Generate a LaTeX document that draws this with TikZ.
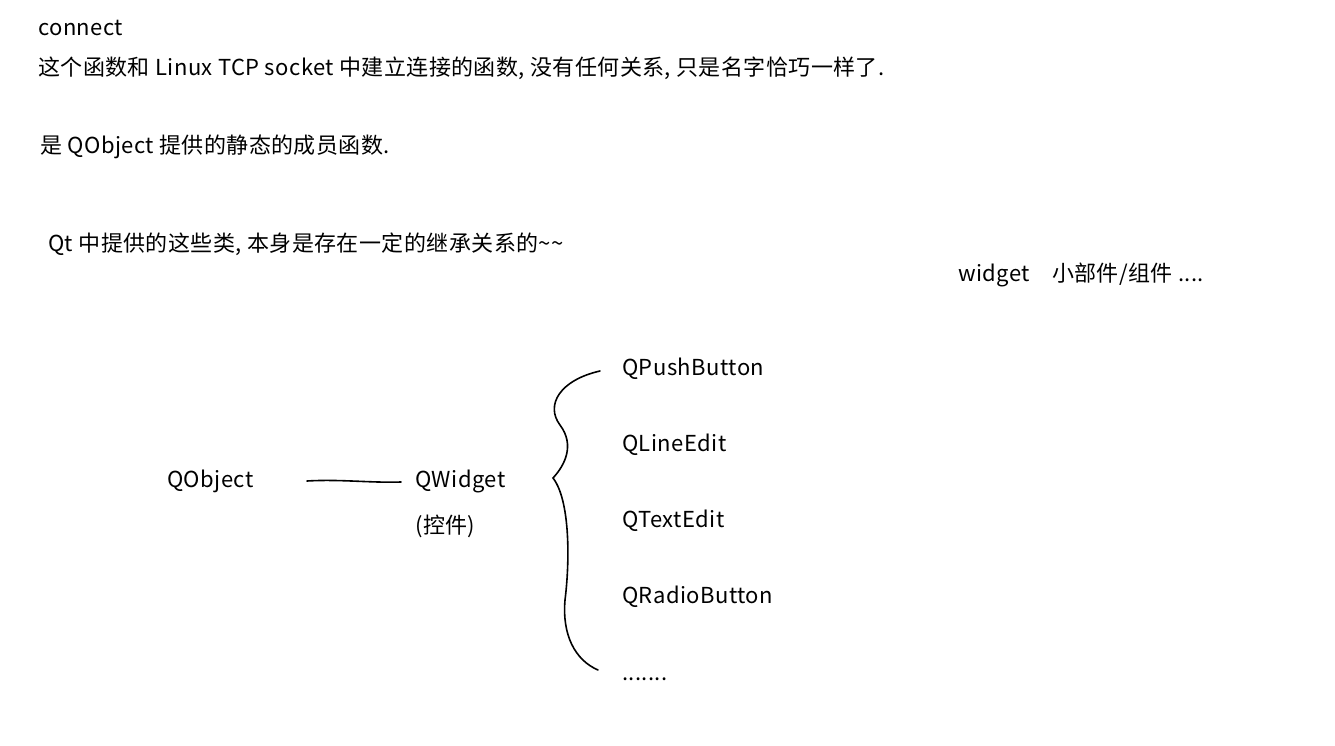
\documentclass[tikz,border=0pt]{standalone}
\usepackage{fontspec}
\setmainfont{Noto Sans CJK SC}[LetterSpace=2]
\begin{document}
\begin{tikzpicture}[x=1pt,y=-1pt,
  txt/.style={anchor=base west,inner sep=0pt,font=\fontsize{22}{25}\selectfont},
  pen/.style={line width=1.6pt,line cap=round}]
\useasboundingbox[fill=white] (0,0) rectangle (1335,745);
\node[txt] (t1) at (38,35) {connect};
\node[txt] (t2) at (38,75) {这个函数和 Linux TCP socket 中建立连接的函数,\ 没有任何关系,\ 只是名字恰巧一样了.};
\node[txt] (t3) at (40,153) {是 QObject 提供的静态的成员函数.};
\node[txt] (t4) at (48,251) {Qt 中提供的这些类,\ 本身是存在一定的继承关系的\textasciitilde\textasciitilde};
\node[txt] (t5) at (958,281) {widget\quad 小部件/组件 ....};
\node[txt] (qo) at (167,487) {QObject};
\node[txt] (qw) at (415,487) {QWidget};
\node[txt] (kj) at (415,533) {(控件)};
\node[txt] (c1) at (622,375) {QPushButton};
\node[txt] (c2) at (622,451) {QLineEdit};
\node[txt] (c3) at (622,527) {QTextEdit};
\node[txt] (c4) at (622,603) {QRadioButton};
\node[txt] (c5) at (622,680) {.......};
\coordinate (l1) at (307,481);
\coordinate (l2) at (401,482);
\draw[pen] (l1) .. controls (340,479) and (370,483) .. (l2);
\coordinate (b0) at (600,371);
\coordinate (bm) at (553,478);
\coordinate (b1) at (598,670);
\draw[pen] (b0) .. controls (560,380) and (545,405) .. (560,425)
  .. controls (575,445) and (565,465) .. (bm)
  .. controls (570,500) and (570,560) .. (565,600)
  .. controls (562,635) and (575,660) .. (b1);
\end{tikzpicture}
\end{document}
